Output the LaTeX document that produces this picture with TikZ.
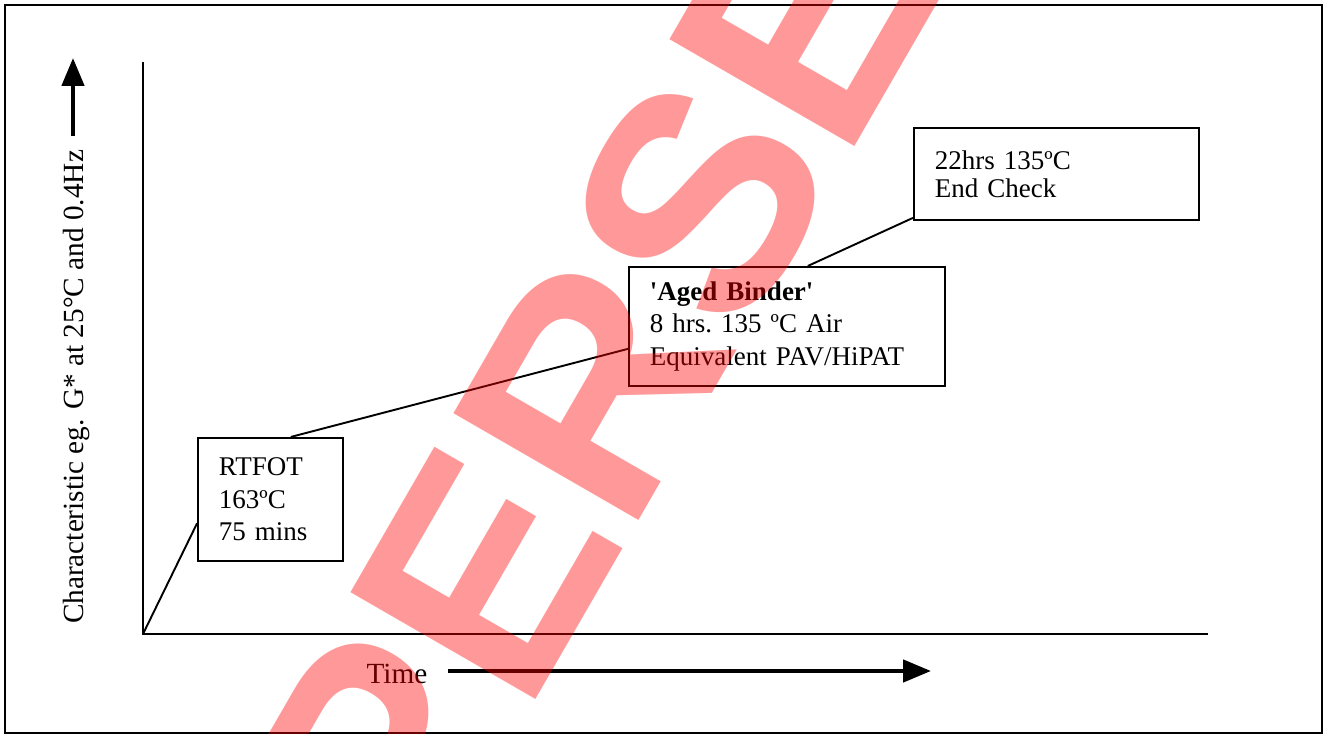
\documentclass[tikz,border=0pt]{standalone}
\usepackage{fontspec}
\setmainfont{Liberation Serif}
\setsansfont{Liberation Sans}
\usetikzlibrary{arrows.meta, positioning}
\tikzset{
  stagebox/.style  = {rectangle, draw, line width=0.9pt, align=left,
                      inner xsep=9.3pt, inner ysep=0pt,
                      font=\fontsize{12}{14.4}\selectfont},
  link/.style      = {line width=0.85pt},
  axis/.style      = {line width=0.9pt},
  bigarrow/.style  = {line width=1.9pt, -{Triangle[length=12.4pt,width=9.8pt]}},
  axislabel/.style = {font=\fontsize{13}{15}\selectfont, inner sep=0pt},
  stamp/.style     = {text=red, text opacity=0.4, inner sep=0pt,
                      font=\sffamily\bfseries\fontsize{138}{138}\selectfont}
}
\begin{document}
\begin{tikzpicture}[x=0.4444pt, y=-0.4444pt]
  \useasboundingbox (0,0) rectangle (1325,734);
  % Outer frame
  \draw[line width=0.9pt] (5,5) rectangle (1322,733);

  % Axes
  \coordinate (o)    at (143,634);
  \coordinate (ytop) at (143,62);
  \coordinate (xend) at (1208,634);
  \draw[axis] (ytop) -- (o) -- (xend);

  % Axis labels and arrows
  \node (ylab) [axislabel, rotate=90, anchor=base] at (84,387)
    {Characteristic eg. G* at 25°C and 0.4Hz};
  \coordinate (yarr0) at (73,136);
  \coordinate (yarr1) at (73,58);
  \draw[bigarrow] (yarr0) -- (yarr1);
  \node (timelab) [axislabel, anchor=base] at (397,683) {Time};
  \coordinate (tarr0) at (448,671);
  \coordinate (tarr1) at (931,671);
  \draw[bigarrow] (tarr0) -- (tarr1);

  % Ageing stages
  \node (rtfot) [stagebox, text width=45.8pt, minimum width=64.4pt,
                 minimum height=54.7pt] at (270.5,499.5)
    {RTFOT\\163ºC\\75 mins};
  \node (aged)  [stagebox, text width=121.8pt, minimum width=140.4pt,
                 minimum height=52.9pt] at (787,326.5)
    {\textbf{\textquotesingle Aged Binder\textquotesingle}\\8 hrs.\ 135 ºC Air\\Equivalent PAV/HiPAT};
  \node (check) [stagebox, text width=108pt, minimum width=126.7pt,
                 minimum height=40.9pt, font=\fontsize{12}{12.5}\selectfont]
                 at (1056.5,174)
    {22hrs 135ºC\\End Check};

  % Ageing curve
  \draw[link] (o)        -- (rtfot.198);
  \draw[link] (rtfot.72) -- (aged.188);
  \draw[link] (aged.71)  -- (check.197);

  % Watermark
  \begin{scope}
    \clip (0,0) rectangle (1325,734);
    \node (wm) [stamp, rotate=60, anchor=base] at (741,344) {SUPERSEDED};
  \end{scope}
\end{tikzpicture}
\end{document}
